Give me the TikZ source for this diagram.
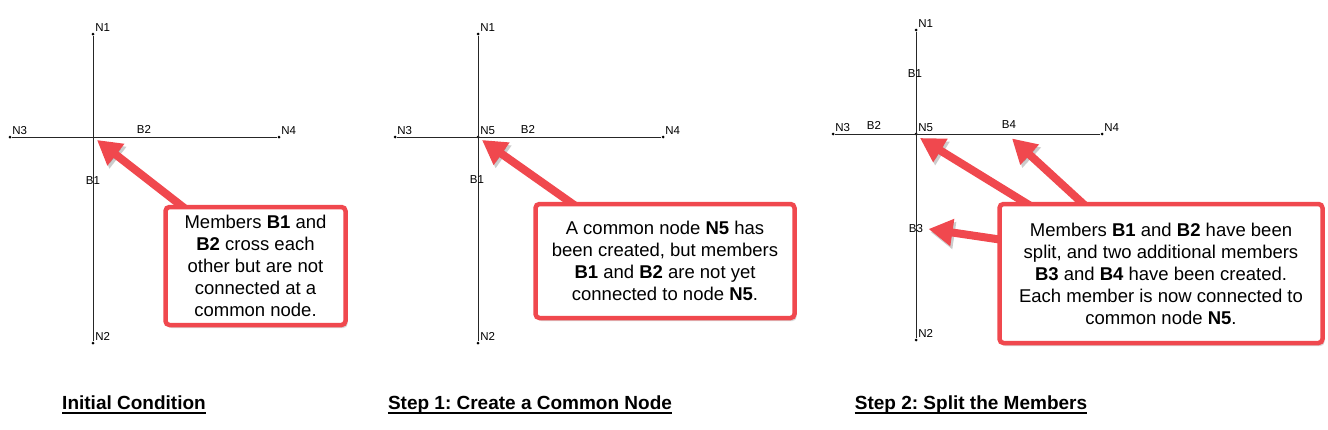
\documentclass[tikz,border=0pt]{standalone}
\usepackage{fontspec}
\setmainfont{Liberation Sans}
\usetikzlibrary{arrows.meta,shadows,backgrounds,calc}
\definecolor{callred}{RGB}{240,72,78}
\frenchspacing

\begin{document}
\begin{tikzpicture}[
  x=1pt, y=-1pt,
  font=\fontsize{11.5}{13}\selectfont,
  jnt/.style = {circle, fill=black, inner sep=0pt, minimum size=3pt},
  nlab/.style = {inner sep=1pt},
  member/.style = {line width=0.6pt, draw=black!85},
  callout/.style = {rectangle, draw=callred, line width=4.5pt,
                    rounded corners=4pt, fill=white, align=center,
                    font=\fontsize{18.5}{22}\selectfont,
                    drop shadow={opacity=0.3, shadow xshift=2pt, shadow yshift=-3pt}},
  pointer/.style = {draw=callred, line width=8pt,
                    -{Triangle[width=26pt,length=24pt]},
                    preaction={draw=black, opacity=0.2,
                               transform canvas={xshift=2pt, yshift=-3pt}}},
  caption/.style = {inner sep=0pt, font=\bfseries\fontsize{19}{22}\selectfont},
  capline/.style = {line width=1.5pt}
]
\useasboundingbox (0,0) rectangle (1328,429);

% Initial condition
\node[jnt, label={[nlab]above right:N1}] (a1) at (93,34) {};
\node[jnt, label={[nlab]above right:N2}] (a2) at (93,343) {};
\node[jnt, label={[nlab]above right:N3}] (a3) at (10,137) {};
\node[jnt, label={[nlab]above right:N4}] (a4) at (279,137) {};
\coordinate (ax) at (93,137);
\draw[member] (a1) -- (a2);
\draw[member] (a3) -- (a4);
\node (ab2) at (144,129) {B2};
\node (ab1) at (93,181) {B1};
\node[callout, minimum width=180pt, minimum height=118pt] (box1) at (255.5,266)
  {Members \textbf{B1} and\\\textbf{B2} cross each\\other but are not\\connected at a\\common node.};
\begin{scope}[on background layer]
  \draw[pointer] ($(box1.north west)+(22,4)$) -- ($(ax)+(4,3)$);
\end{scope}
\node[caption] (cap1) at (134,403) {Initial Condition};
\draw[capline] ([yshift=-3pt]cap1.base west) -- ([yshift=-3pt]cap1.base east);

% Step 1
\node[jnt, label={[nlab]above right:N1}] (b1) at (478,34) {};
\node[jnt, label={[nlab]above right:N2}] (b2) at (478,343) {};
\node[jnt, label={[nlab]above right:N3}] (b3) at (395,137) {};
\node[jnt, label={[nlab]above right:N4}] (b4) at (663,137) {};
\node[jnt, label={[nlab]above right:N5}] (b5) at (478,137) {};
\draw[member] (b1) -- (b2);
\draw[member] (b3) -- (b4);
\node (bb2) at (528,129) {B2};
\node (bb1) at (477,180) {B1};
\node[callout, minimum width=259pt, minimum height=114pt] (box2) at (665,261)
  {A common node \textbf{N5} has\\been created, but members\\\textbf{B1} and \textbf{B2} are not yet\\connected to node \textbf{N5}.};
\begin{scope}[on background layer]
  \draw[pointer] ($(box2.north west)+(42,4)$) -- ($(b5)+(4,3)$);
\end{scope}
\node[caption] (cap2) at (530,405) {Step 1: Create a Common Node};
\draw[capline] ([yshift=-3pt]cap2.base west) -- ([yshift=-3pt]cap2.base east);

% Step 2
\node[jnt, label={[nlab]above right:N1}] (c1) at (916,30) {};
\node[jnt, label={[nlab]above right:N2}] (c2) at (916,340) {};
\node[jnt, label={[nlab]above right:N3}] (c3) at (833,134) {};
\node[jnt, label={[nlab]above right:N4}] (c4) at (1102,134) {};
\node[jnt, label={[nlab]above right:N5}] (c5) at (916,134) {};
\draw[member] (c1) -- (c2);
\draw[member] (c3) -- (c4);
\node (cb1) at (915,74) {B1};
\node (cb2) at (874,125) {B2};
\node (cb4) at (1009,125) {B4};
\node (cb3) at (916,229) {B3};
\node[callout, minimum width=323pt, minimum height=139pt] (box3) at (1161,273.5)
  {Members \textbf{B1} and \textbf{B2} have been\\split, and two additional members\\\textbf{B3} and \textbf{B4} have been created.\\Each member is now connected to\\common node \textbf{N5}.};
\begin{scope}[on background layer]
  \draw[pointer] ($(box3.north west)+(33,4)$) -- ($(c5)+(4,4)$);
  \draw[pointer] ($(box3.north west)+(88,4)$) -- ($(cb4.south)+(3,6)$);
  \draw[pointer] ($(box3.north west)+(4,38)$) -- ($(cb3.east)+(2,0)$);
\end{scope}
\node[caption] (cap3) at (971,405) {Step 2: Split the Members};
\draw[capline] ([yshift=-3pt]cap3.base west) -- ([yshift=-3pt]cap3.base east);

\end{tikzpicture}
\end{document}
